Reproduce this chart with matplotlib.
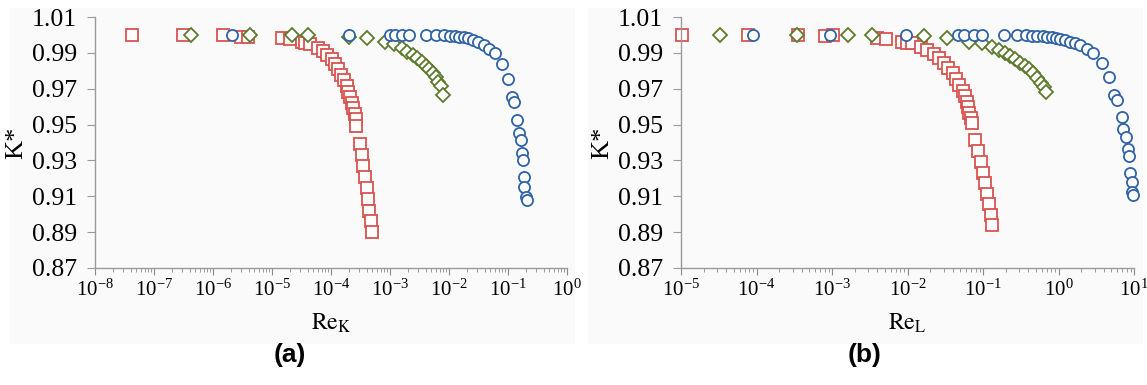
#!/usr/bin/env python3
import numpy as np
import matplotlib
matplotlib.use('Agg')
import matplotlib.pyplot as plt
from matplotlib.ticker import LogLocator, NullFormatter, FixedLocator
from matplotlib.patches import Rectangle

# ---- panel (a): K* against Re_K ----
a_sq_x = [4.24e-8, 3.10e-7, 1.48e-6, 2.99e-6, 3.92e-6, 1.48e-5, 2.02e-5, 3.22e-5, 3.62e-5, 4.41e-5,
          6.03e-5, 7.31e-5, 8.55e-5, 1.04e-4, 1.17e-4, 1.32e-4, 1.48e-4, 1.66e-4, 1.87e-4, 1.94e-4,
          2.10e-4, 2.27e-4, 2.36e-4, 2.55e-4, 2.65e-4, 2.70e-4, 3.10e-4, 3.35e-4, 3.48e-4, 3.77e-4,
          4.07e-4, 4.24e-4, 4.41e-4, 4.76e-4, 4.95e-4]
a_sq_y = [1.000, 1.000, 1.000, 0.9990, 0.9990, 0.9983, 0.9977, 0.9960, 0.9955, 0.9950,
          0.9927, 0.9910, 0.9888, 0.9866, 0.9838, 0.9810, 0.9776, 0.9748, 0.9715, 0.9681,
          0.9654, 0.9620, 0.9592, 0.9559, 0.9531, 0.9492, 0.9391, 0.9330, 0.9269, 0.9207,
          0.9146, 0.9084, 0.9017, 0.8961, 0.8900]
a_di_x = [4.24e-7, 4.24e-6, 2.18e-5, 4.07e-5, 2.02e-4, 4.07e-4, 8.22e-4, 1.17e-3, 1.60e-3, 1.94e-3,
          2.45e-3, 2.87e-3, 3.49e-3, 4.07e-3, 4.58e-3, 5.36e-3, 6.03e-3, 6.52e-3, 7.32e-3, 7.91e-3]
a_di_y = [1.000, 1.000, 1.000, 1.000, 0.9988, 0.9983, 0.9960, 0.9950, 0.9927, 0.9905,
          0.9888, 0.9871, 0.9849, 0.9827, 0.9810, 0.9788, 0.9765, 0.9737, 0.9715, 0.9665]
a_ci_x = [2.10e-6, 2.02e-4, 1.00e-3, 1.22e-3, 1.60e-3, 2.10e-3, 4.07e-3, 6.03e-3, 8.22e-3, 1.04e-2,
          1.26e-2, 1.48e-2, 1.79e-2, 2.10e-2, 2.55e-2, 3.10e-2, 3.92e-2, 4.76e-2, 6.03e-2, 7.91e-2,
          0.100, 0.117, 0.126, 0.142, 0.154, 0.166, 0.173, 0.180, 0.187, 0.187, 0.202, 0.210]
a_ci_y = [1.000, 1.000, 1.000, 1.000, 1.000, 1.000, 1.000, 1.000, 1.000, 0.9994,
          0.9994, 0.9988, 0.9988, 0.9983, 0.9972, 0.9960, 0.9944, 0.9921, 0.9899, 0.9838,
          0.9754, 0.9654, 0.9626, 0.9525, 0.9453, 0.9414, 0.9341, 0.9302, 0.9207, 0.9151, 0.9096, 0.9079]

# ---- panel (b): K* against Re_L ----
b_sq_x = [1.03e-5, 7.71e-5, 3.55e-4, 8.07e-4, 1.03e-3, 3.94e-3, 5.19e-3, 8.45e-3, 9.85e-3, 1.15e-2,
          1.51e-2, 1.81e-2, 2.24e-2, 2.61e-2, 3.04e-2, 3.44e-2, 4.01e-2, 4.39e-2, 4.81e-2, 5.43e-2,
          5.78e-2, 6.14e-2, 6.33e-2, 6.53e-2, 6.94e-2, 7.15e-2, 7.83e-2, 8.59e-2, 9.42e-2, 0.100,
          0.106, 0.113, 0.120, 0.128, 0.132]
b_sq_y = [1.000, 1.000, 1.000, 0.9994, 1.000, 0.9983, 0.9977, 0.9960, 0.9955, 0.9955,
          0.9933, 0.9916, 0.9894, 0.9871, 0.9843, 0.9815, 0.9788, 0.9754, 0.9721, 0.9687,
          0.9659, 0.9626, 0.9598, 0.9564, 0.9536, 0.9508, 0.9414, 0.9352, 0.9291, 0.9230,
          0.9174, 0.9112, 0.9057, 0.8995, 0.8939]
b_di_x = [3.29e-5, 3.44e-4, 1.63e-3, 3.39e-3, 1.66e-2, 3.34e-2, 6.53e-2, 9.70e-2, 0.132, 0.163,
          0.196, 0.228, 0.265, 0.309, 0.360, 0.406, 0.459, 0.519, 0.586, 0.643, 0.683]
b_di_y = [1.000, 1.000, 1.000, 1.000, 0.9994, 0.9983, 0.9960, 0.9955, 0.9933, 0.9916,
          0.9899, 0.9882, 0.9866, 0.9843, 0.9827, 0.9810, 0.9788, 0.9760, 0.9732, 0.9709, 0.9681]
b_ci_x = [8.99e-5, 9.42e-4, 9.55e-3, 4.67e-2, 5.60e-2, 7.60e-2, 9.70e-2, 0.190, 0.282, 0.371,
          0.446, 0.519, 0.623, 0.705, 0.820, 0.927, 1.05, 1.22, 1.42, 1.65,
          1.93, 2.38, 2.86, 3.77, 4.66, 5.43, 5.95, 6.93, 7.15, 7.83,
          8.33, 8.59, 8.85, 9.42, 9.42, 9.70]
b_ci_y = [1.000, 1.000, 1.000, 1.000, 1.000, 1.000, 1.000, 1.000, 1.000, 1.000,
          0.9994, 0.9994, 0.9994, 0.9988, 0.9988, 0.9983, 0.9977, 0.9972, 0.9960, 0.9955,
          0.9944, 0.9921, 0.9899, 0.9843, 0.9765, 0.9665, 0.9637, 0.9542, 0.9475, 0.9430,
          0.9364, 0.9324, 0.9230, 0.9179, 0.9123, 0.9107]

y_ticks = [0.87, 0.89, 0.91, 0.93, 0.95, 0.97, 0.99, 1.01]
a_xlim = (1e-8, 1e0)
b_xlim = (1e-5, 1e1)

colors = {'square': '#d9534f', 'diamond': '#5c7a2c', 'circle': '#2f62a6'}


def style_axes(ax, xlim, xlabel):
    ax.set_xscale('log')
    ax.set_xlim(*xlim)
    ax.set_ylim(0.87, 1.01)
    ax.yaxis.set_major_locator(FixedLocator(y_ticks))
    ax.set_yticklabels(['%.2f' % v for v in y_ticks])
    ax.xaxis.set_major_locator(LogLocator(base=10, numticks=30))
    ax.xaxis.set_minor_locator(LogLocator(base=10, subs=np.arange(2, 10), numticks=100))
    ax.xaxis.set_minor_formatter(NullFormatter())
    for s in ['top', 'right']:
        ax.spines[s].set_visible(False)
    for s in ['left', 'bottom']:
        ax.spines[s].set_color('#9a9a9a')
        ax.spines[s].set_linewidth(1.0)
    ax.tick_params(axis='y', which='major', length=6, color='#9a9a9a', labelsize=18.5, pad=7)
    ax.tick_params(axis='x', which='major', length=5, color='#8a8a8a', labelsize=15, pad=3)
    ax.tick_params(axis='x', which='minor', length=3, color='#8a8a8a')
    ax.patch.set_alpha(0)
    ax.set_ylabel('K*', fontsize=19, labelpad=3)
    ax.set_xlabel(xlabel, fontsize=17, labelpad=8)


def draw(ax, sq, di, ci):
    kw = dict(linestyle='none', markerfacecolor='white', markeredgewidth=1.3, clip_on=False)
    ax.plot(sq[0], sq[1], marker='s', markersize=8.3, markeredgecolor=colors['square'], **kw)
    ax.plot(di[0], di[1], marker='D', markersize=7, markeredgecolor=colors['diamond'], **kw)
    ax.plot(ci[0], ci[1], marker='o', markersize=8, markeredgecolor=colors['circle'], **kw)


def main():
    plt.rcParams['font.family'] = ['Liberation Serif', 'DejaVu Serif']
    plt.rcParams['mathtext.fontset'] = 'stix'
    fig = plt.figure(figsize=(11.47, 3.85), dpi=100)
    fig.patch.set_facecolor('white')
    # light grey panels behind each plot
    for x0, w in [(10, 565), (588, 555)]:
        fig.add_artist(Rectangle((x0 / 1147, 41 / 385), w / 1147, 336 / 385, transform=fig.transFigure,
                                 facecolor='#fafafa', edgecolor='none', zorder=-10))

    ax1 = fig.add_axes([95 / 1147, 117 / 385, 472 / 1147, 251 / 385])
    ax2 = fig.add_axes([681 / 1147, 117 / 385, 453 / 1147, 251 / 385])

    style_axes(ax1, a_xlim, r'$\mathrm{Re}_{\mathrm{K}}$')
    style_axes(ax2, b_xlim, r'$\mathrm{Re}_{\mathrm{L}}$')
    draw(ax1, (a_sq_x, a_sq_y), (a_di_x, a_di_y), (a_ci_x, a_ci_y))
    draw(ax2, (b_sq_x, b_sq_y), (b_di_x, b_di_y), (b_ci_x, b_ci_y))

    fig.text(290 / 1147, 1 - 355 / 385, '(a)', fontsize=19, fontweight='bold',
             family='Liberation Sans', ha='center', va='center')
    fig.text(865 / 1147, 1 - 355 / 385, '(b)', fontsize=19, fontweight='bold',
             family='Liberation Sans', ha='center', va='center')

    fig.savefig('out.png', dpi=100)


if __name__ == '__main__':
    main()
